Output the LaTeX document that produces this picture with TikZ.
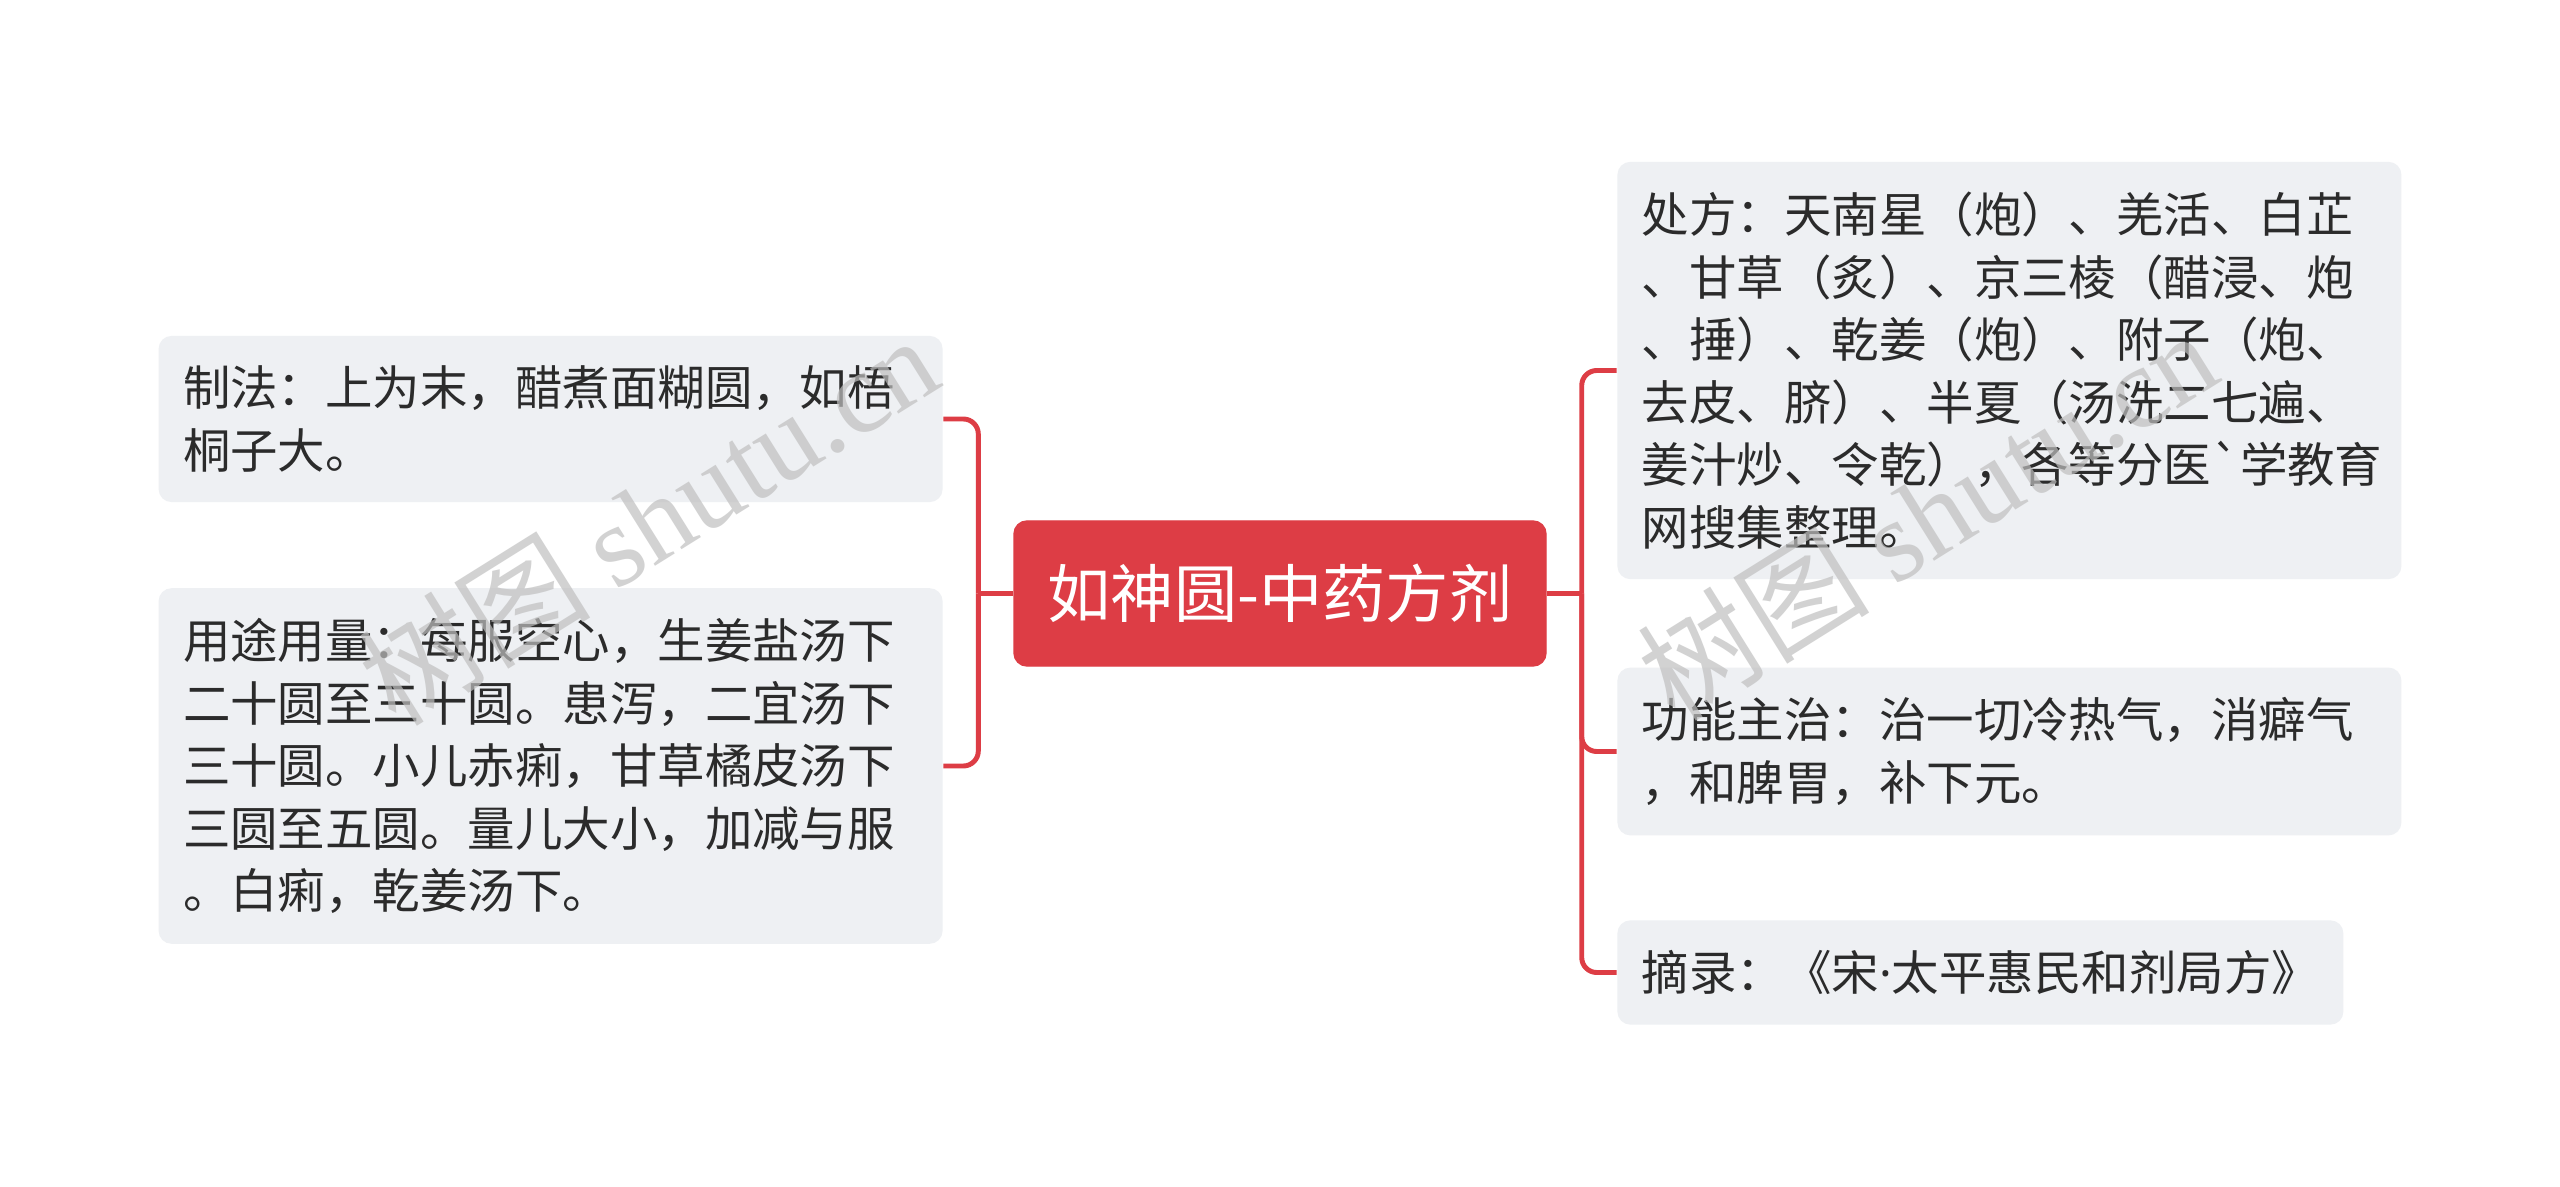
\documentclass[tikz,border=0pt]{standalone}
\usepackage{fontspec}
\setmainfont{Noto Sans CJK SC}[Ligatures=TeXOff]
\newfontfamily\wmserif{Liberation Serif}
\newfontfamily\dotsans{Noto Sans}
\usetikzlibrary{arrows,positioning,shapes}
\definecolor{mapred}{HTML}{DD3D45}
\definecolor{leafbg}{HTML}{EEF0F3}
\definecolor{leafink}{HTML}{2B2B2B}
\tikzset{
    %Define style for the centre box
    topic/.style={
   	rectangle,
   	rounded corners=0.13cm,
   	draw=mapred, fill=mapred,
   	minimum width=5.32cm,
   	minimum height=1.45cm,
   	font=\fontsize{18}{22}\selectfont,
   	text=white,
   	text centered
   },
    %Define style for boxes
   leaf/.style={
   	rectangle,
   	rounded corners=0.13cm,
   	fill=leafbg,
   	inner xsep=0.245cm,
   	inner ysep=0.3cm,
   	font=\fontsize{13.5}{17.8}\selectfont,
   	text=leafink,
   	align=left
   },
   wideleaf/.style={leaf, text width=7.35cm},
    % Define branch style
    branch/.style={
           draw=mapred,
           line width=1.4pt,
           rounded corners=0.15cm},
    watermark/.style={
   	font=\fontsize{33}{33}\selectfont,
   	text=black!25,
   	opacity=0.7}
}
\begin{document}
\begin{tikzpicture}[node distance=0.7cm]
		\fill[white] (0,0) rectangle (25.6,-11.87);
		\useasboundingbox (0,0) rectangle (25.6,-11.87);
		\node[topic](root) at (12.80,-5.935){如神圆-中药方剂};
		\node[wideleaf, left=of root, yshift=1.745cm](zhifa){制法：上为末，醋煮面糊圆，如梧\\桐子大。};
		\node[wideleaf, left=of root, yshift=-1.725cm](yongtu){用途用量：每服空心，生姜盐汤下\\二十圆至三十圆。患泻，二宜汤下\\三十圆。小儿赤痢，甘草橘皮汤下\\三圆至五圆。量儿大小，加减与服\\。白痢，乾姜汤下。};
		\node[wideleaf, right=of root, yshift=2.23cm](chufang){处方：天南星（炮）、羌活、白芷\\、甘草（炙）、京三棱（醋浸、炮\\、捶）、乾姜（炮）、附子（炮、\\去皮、脐）、半夏（汤洗二七遍、\\姜汁炒、令乾），各等分医`学教育\\网搜集整理。};
		\node[wideleaf, right=of root, yshift=-1.58cm](gongneng){功能主治：治一切冷热气，消癖气\\，和脾胃，补下元。};
		\node[leaf, right=of root, yshift=-3.79cm](zhailu){摘录：《宋{\dotsans ·}太平惠民和剂局方》};
		\coordinate[left=0.35cm of root.west](ltrunk);
		\coordinate[right=0.35cm of root.east](rtrunk);
		\draw[branch] (root.west) -- (ltrunk);
		\draw[branch] (root.east) -- (rtrunk);
		\draw[branch] (ltrunk) |- (zhifa.east);
		\draw[branch] (ltrunk) |- (yongtu.east);
		\draw[branch] (rtrunk) |- (chufang.west);
		\draw[branch] (rtrunk) |- (gongneng.west);
		\draw[branch] (rtrunk) |- (zhailu.west);
		\node[watermark, rotate=32](wm1) at (6.48,-5.19){树图 {\wmserif shutu.cn}};
		\node[watermark, rotate=32](wm2) at (19.27,-5.14){树图 {\wmserif shutu.cn}};
\end{tikzpicture}
\end{document}
